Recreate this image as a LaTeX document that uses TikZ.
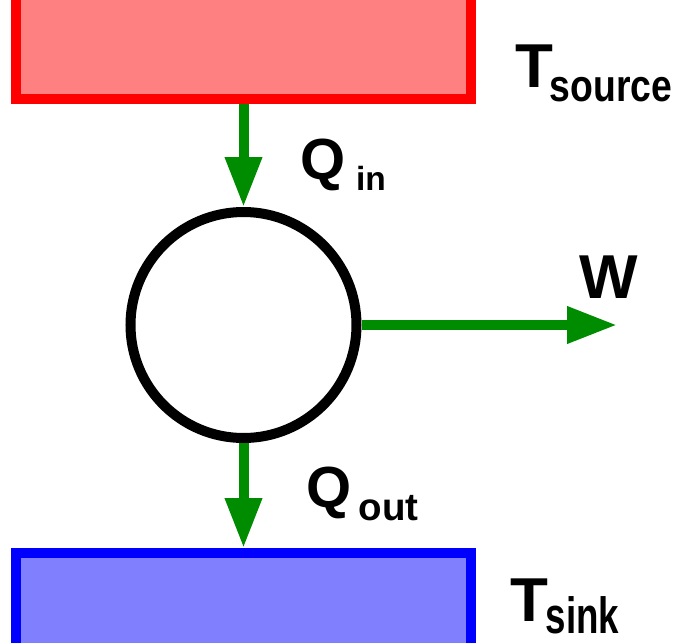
\documentclass[tikz,border=0pt]{standalone}
\usepackage{graphicx}
\usepackage{fontspec}
\setmainfont{Liberation Sans}
\usetikzlibrary{arrows.meta}
\definecolor{srcfill}{HTML}{FF8080}
\definecolor{sinkfill}{HTML}{8080FF}
\definecolor{flow}{RGB}{0,140,0}
\begin{document}
\begin{tikzpicture}[x=1pt,y=-1pt,
  reservoir/.style={rectangle, line width=10pt, minimum width=455pt, inner sep=0pt},
  engine/.style={circle, draw=black, line width=10pt, minimum size=226pt, inner sep=0pt},
  flowarrow/.style={draw=flow, line width=10pt, -{Triangle[length=50pt,width=35pt]}},
  lbl/.style={anchor=base west, inner sep=0pt, font=\bfseries}]
\useasboundingbox (0,0) rectangle (681,643);
\node[reservoir, draw=red, fill=srcfill, minimum height=119pt] (source) at (243.5,39.5) {};
\node[reservoir, draw=blue, fill=sinkfill, minimum height=107pt] (sink) at (243.5,606.5) {};
\node[engine] (eng) at (243.5,325) {};
\coordinate (wend) at (617,325);
\draw[flowarrow] (source.south) -- (eng.north);
\draw[flowarrow] (eng.south) -- (sink.north);
\draw[flowarrow] (eng.east) -- (wend);
\node[lbl] (tsource) at (515.5,87.3) {\fontsize{62}{62}\selectfont T\kern-3.9pt\raisebox{-14.4pt}{\fontsize{45}{45}\selectfont\scalebox{0.83}[1]{source}}};
\node[lbl] (qin) at (300.4,179) {\fontsize{58}{58}\selectfont Q\kern10.3pt\raisebox{-11pt}{\fontsize{33.5}{33.5}\selectfont in}};
\node[lbl] (w) at (579.5,298) {\fontsize{62}{62}\selectfont W};
\node[lbl] (qout) at (306,507) {\fontsize{58}{58}\selectfont Q\kern7.4pt\raisebox{-13pt}{\fontsize{38.5}{38.5}\selectfont out}};
\node[lbl] (tsink) at (510.5,621.7) {\fontsize{62}{62}\selectfont T\kern-2.9pt\raisebox{-11.6pt}{\fontsize{51}{51}\selectfont\scalebox{0.72}[1]{sink}}};
\end{tikzpicture}
\end{document}
